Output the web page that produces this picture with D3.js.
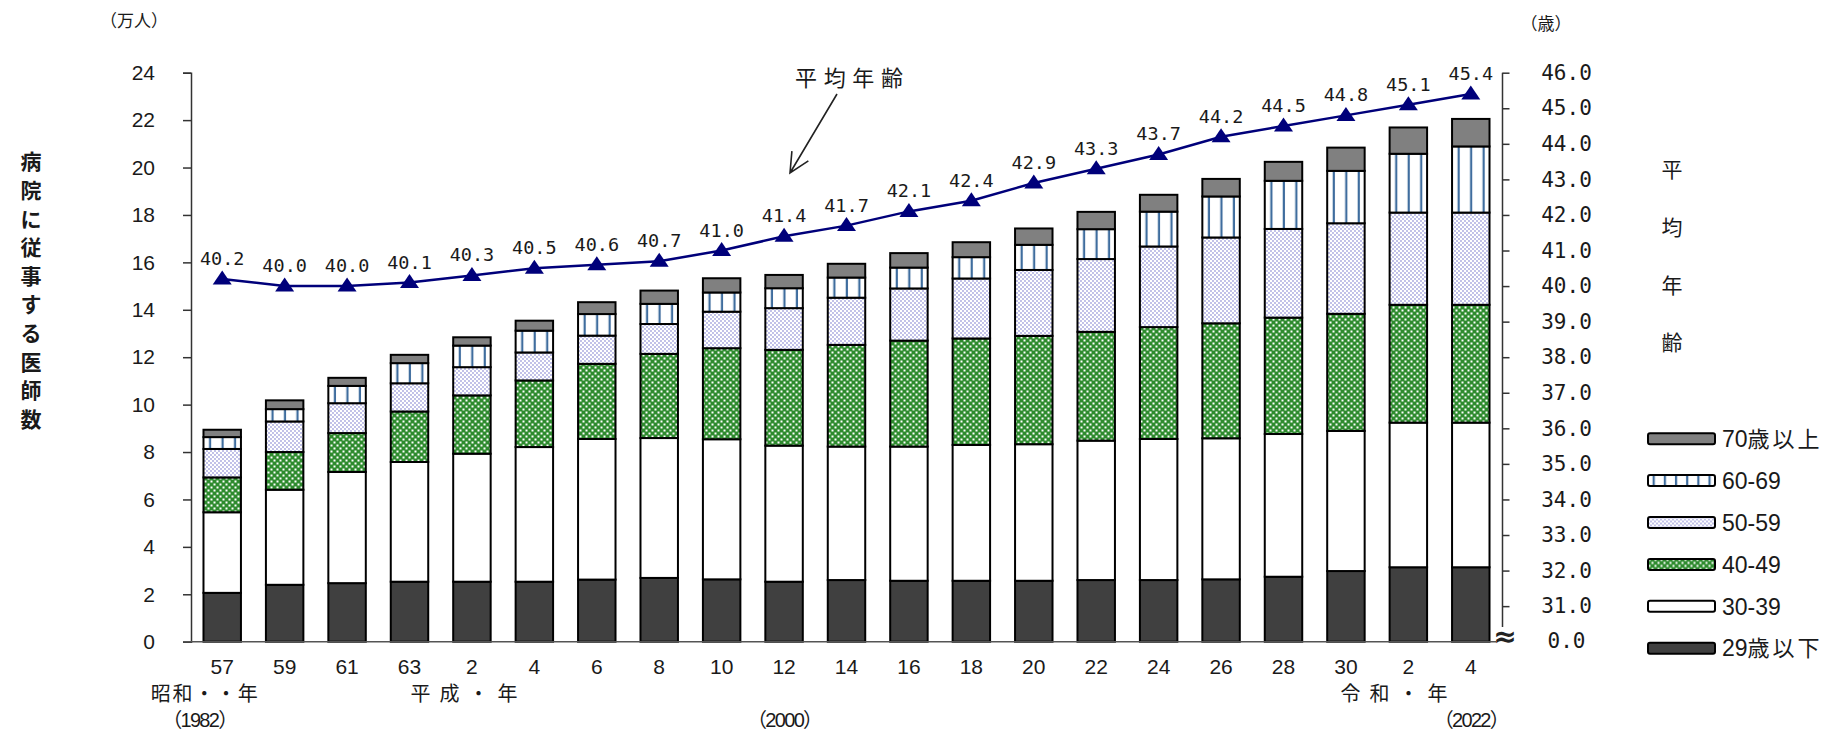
<!DOCTYPE html>
<html>
<head>
<meta charset="utf-8">
<script src="https://cdn.jsdelivr.net/npm/d3@7"></script>
<style>
  body { margin: 0; background: #ffffff; }
</style>
</head>
<body>
<div id="chart"></div>
<script>

/* DATA *********************************************************************************/

// 和暦の年 (昭和57 ... 令和4)
var years = ["57","59","61","63","2","4","6","8","10","12","14","16","18","20","22","24","26","28","30","2","4"];

// 病院に従事する医師数 (万人), by age group
var under29 = [2.06,2.40,2.47,2.53,2.53,2.53,2.62,2.69,2.63,2.53,2.60,2.57,2.57,2.57,2.60,2.60,2.63,2.74,2.98,3.14,3.14];
var age30s  = [3.40,4.01,4.69,5.05,5.40,5.68,5.93,5.90,5.91,5.74,5.63,5.66,5.73,5.76,5.88,5.95,5.95,6.02,5.91,6.10,6.10];
var age40s  = [1.47,1.59,1.64,2.13,2.46,2.81,3.17,3.55,3.84,4.04,4.29,4.47,4.49,4.57,4.59,4.72,4.85,4.91,4.94,4.97,4.97];
var age50s  = [1.20,1.29,1.26,1.19,1.19,1.18,1.19,1.26,1.54,1.76,1.99,2.20,2.53,2.78,3.07,3.40,3.62,3.74,3.82,3.89,3.89];
var age60s  = [0.50,0.52,0.73,0.85,0.91,0.92,0.91,0.85,0.81,0.84,0.85,0.88,0.90,1.06,1.26,1.47,1.73,2.03,2.21,2.48,2.79];
var over70  = [0.31,0.37,0.34,0.35,0.35,0.42,0.50,0.56,0.60,0.56,0.58,0.61,0.63,0.69,0.73,0.71,0.74,0.80,0.98,1.11,1.16];

// 平均年齢 (歳)
var meanAge = [40.2,40.0,40.0,40.1,40.3,40.5,40.6,40.7,41.0,41.4,41.7,42.1,42.4,42.9,43.3,43.7,44.2,44.5,44.8,45.1,45.4];

// Series names (bottom to top of the stack)
var seriesNames = ["29歳以下","30-39","40-49","50-59","60-69","70歳以上"];

// Tick values
var leftTicks  = [0,2,4,6,8,10,12,14,16,18,20,22,24];
var rightTicks = [31,32,33,34,35,36,37,38,39,40,41,42,43,44,45,46];

// Era labels under the axis
var eraLabels  = ["昭和・・年","平成・年","令和・年"];
var yearLabels = ["（1982）","（2000）","（2022）"];

/* SETTINGS *****************************************************************************/

var width = 1838;
var height = 731;
var numFont = "'Liberation Sans', Arial, sans-serif";
var monoFont = "'DejaVu Sans Mono', 'Liberation Mono', monospace";
var jpFont = "'Noto Sans CJK JP', 'Noto Sans', sans-serif";
var lineColor = "#00007a";
var textColor = "#1a1a1a";

/* SVG **********************************************************************************/

var svg = d3.select("#chart")
    .append("svg")
    .attr("width", width)
    .attr("height", height)
    .style("background-color", "#ffffff");

// Fill patterns
var defs = svg.append("defs");

var green = defs.append("pattern")
    .attr("id", "pGreen")
    .attr("patternUnits", "userSpaceOnUse")
    .attr("width", 6).attr("height", 6);
green.append("rect").attr("width", 6).attr("height", 6).attr("fill", "#2e8b2e");
green.append("rect").attr("x", 0.5).attr("y", 0.5).attr("width", 2).attr("height", 2).attr("fill", "#ffffff");
green.append("rect").attr("x", 3.5).attr("y", 3.5).attr("width", 2).attr("height", 2).attr("fill", "#ffffff");

var lav = defs.append("pattern")
    .attr("id", "pLav")
    .attr("patternUnits", "userSpaceOnUse")
    .attr("width", 4).attr("height", 4);
lav.append("rect").attr("width", 4).attr("height", 4).attr("fill", "#ffffff");
lav.append("circle").attr("cx", 1).attr("cy", 1).attr("r", 0.9).attr("fill", "#a4a4de");
lav.append("circle").attr("cx", 3).attr("cy", 3).attr("r", 0.9).attr("fill", "#a4a4de");

// vertical stripes: three per bar, six per legend box
[["pStripe", 1/3, 5.5], ["pStripeLegend", 1/6, 4.6]].forEach(function(p) {
    var pat = defs.append("pattern")
        .attr("id", p[0])
        .attr("patternUnits", "objectBoundingBox")
        .attr("width", p[1]).attr("height", 1);
    pat.append("rect").attr("width", 40).attr("height", 1000).attr("fill", "#ffffff");
    pat.append("rect").attr("x", p[2]).attr("y", 0)
        .attr("width", 2.2).attr("height", 1000).attr("fill", "#3f6d9e");
});

var fills = ["#404040", "#ffffff", "url(#pGreen)", "url(#pLav)", "url(#pStripe)", "#808080"];
var legendFills = ["#404040", "#ffffff", "url(#pGreen)", "url(#pLav)", "url(#pStripeLegend)", "#808080"];

// Scales
var x = d3.scaleBand()
    .domain(d3.range(years.length))
    .range([191, 1502])
    .paddingInner(0.4)
    .paddingOuter(0.2);
var yL = d3.scaleLinear().domain([0, 24]).range([641.7, 72.7]);
var yR = d3.scaleLinear().domain([30, 46]).range([641.7, 72.7]);

// Stack the series
var table = years.map(function(d, i) {
    return {
        "29歳以下": under29[i], "30-39": age30s[i], "40-49": age40s[i],
        "50-59": age50s[i], "60-69": age60s[i], "70歳以上": over70[i]
    };
});
var stacked = d3.stack().keys(seriesNames)(table);

// Bars
svg.append("g").selectAll("g")
    .data(stacked)
    .join("g")
    .attr("fill", function(d, i) { return fills[i]; })
    .selectAll("rect")
    .data(function(d) { return d; })
    .join("rect")
    .attr("x", function(d, i) { return x(i); })
    .attr("y", function(d) { return yL(d[1]); })
    .attr("width", x.bandwidth())
    .attr("height", function(d) { return yL(d[0]) - yL(d[1]); })
    .attr("stroke", "#000000")
    .attr("stroke-width", 2);

// Left axis
var leftAxis = svg.append("g")
    .attr("transform", "translate(191,0)")
    .call(d3.axisLeft(yL).tickValues(leftTicks).tickSize(8).tickPadding(28));
leftAxis.select(".domain").attr("stroke", "#333").attr("stroke-width", 1.5);
leftAxis.selectAll(".tick line").attr("stroke", "#333").attr("stroke-width", 1.5);
leftAxis.selectAll("text")
    .attr("font-family", numFont).attr("font-size", 21).attr("fill", textColor);

// Base line
svg.append("line")
    .attr("x1", 183).attr("x2", 1496)
    .attr("y1", yL(0)).attr("y2", yL(0))
    .attr("stroke", "#555").attr("stroke-width", 1.5);

// Right axis (broken at the bottom)
var rightAxis = svg.append("g")
    .attr("transform", "translate(1502.5,0)")
    .call(d3.axisRight(yR).tickValues(rightTicks).tickSize(7).tickSizeOuter(0)
        .tickFormat(function(d) { return d.toFixed(1); }));
rightAxis.select(".domain").remove();
rightAxis.selectAll(".tick line").attr("stroke", "#333").attr("stroke-width", 1.5);
rightAxis.selectAll("text")
    .attr("x", 64).attr("text-anchor", "middle")
    .attr("font-family", monoFont).attr("font-size", 21).attr("fill", textColor);
svg.append("line")
    .attr("x1", 1502.5).attr("x2", 1502.5)
    .attr("y1", yR(46)).attr("y2", 627)
    .attr("stroke", "#333").attr("stroke-width", 1.5);
svg.append("text")
    .attr("x", 1566.5).attr("y", yR(30))
    .attr("dy", "0.32em")
    .attr("text-anchor", "middle")
    .attr("font-family", monoFont).attr("font-size", 21).attr("fill", textColor)
    .text((0).toFixed(1));
svg.append("text")
    .attr("x", 1505).attr("y", 636)
    .attr("dy", "0.35em")
    .attr("text-anchor", "middle")
    .attr("font-family", "'DejaVu Sans', sans-serif").attr("font-size", 28)
    .attr("font-weight", "bold").attr("fill", "#222")
    .text("≈");

// Category labels
svg.append("g").selectAll("text")
    .data(years)
    .join("text")
    .attr("x", function(d, i) { return x(i) + x.bandwidth() / 2; })
    .attr("y", 674)
    .attr("text-anchor", "middle")
    .attr("font-family", numFont).attr("font-size", 21).attr("fill", textColor)
    .text(function(d) { return d; });

// Era and western year labels
var eraPos = [[0, -18], [4, -8], [18, 48]];
var yearPos = [[0, -22], [9, 1], [20, 1]];
svg.append("g").selectAll("text")
    .data(eraLabels)
    .join("text")
    .attr("x", function(d, i) { return x(eraPos[i][0]) + x.bandwidth() / 2 + eraPos[i][1]; })
    .attr("y", 701)
    .attr("text-anchor", "middle")
    .attr("font-family", jpFont).attr("font-size", 20).attr("fill", textColor)
    .attr("textLength", 107).attr("lengthAdjust", "spacing")
    .text(function(d) { return d; });
svg.append("g").selectAll("text")
    .data(yearLabels)
    .join("text")
    .attr("x", function(d, i) { return x(yearPos[i][0]) + x.bandwidth() / 2 + yearPos[i][1]; })
    .attr("y", 727)
    .attr("text-anchor", "middle")
    .attr("font-family", numFont + ", " + jpFont).attr("font-size", 20).attr("fill", textColor)
    .attr("textLength", 76).attr("lengthAdjust", "spacing")
    .text(function(d) { return d; });

// Mean age line
var line = d3.line()
    .x(function(d, i) { return x(i) + x.bandwidth() / 2; })
    .y(function(d) { return yR(d); });
svg.append("path")
    .datum(meanAge)
    .attr("d", line)
    .attr("fill", "none")
    .attr("stroke", lineColor)
    .attr("stroke-width", 2.5);

// Triangle markers
svg.append("g").selectAll("path")
    .data(meanAge)
    .join("path")
    .attr("d", "M0,-8.5L9.5,5.5L-9.5,5.5Z")
    .attr("transform", function(d, i) {
        return "translate(" + (x(i) + x.bandwidth() / 2) + "," + yR(d) + ")";
    })
    .attr("fill", lineColor);

// Value labels
svg.append("g").selectAll("text")
    .data(meanAge)
    .join("text")
    .attr("x", function(d, i) { return x(i) + x.bandwidth() / 2; })
    .attr("y", function(d) { return yR(d) - 14; })
    .attr("text-anchor", "middle")
    .attr("font-family", monoFont).attr("font-size", 18.5).attr("fill", textColor)
    .text(function(d) { return d.toFixed(1); });

// Annotation with arrow
svg.append("text")
    .attr("x", 849).attr("y", 86)
    .attr("text-anchor", "middle")
    .attr("font-family", jpFont).attr("font-size", 22).attr("fill", textColor)
    .attr("textLength", 108).attr("lengthAdjust", "spacing")
    .text("平均年齢");
var a0 = [837, 94], a1 = [790, 173];
var ang = Math.atan2(a1[1] - a0[1], a1[0] - a0[0]);
var headLen = 22, headAng = 0.45;
svg.append("path")
    .attr("d", "M" + a0 + "L" + a1 +
        "M" + [a1[0] - headLen * Math.cos(ang - headAng), a1[1] - headLen * Math.sin(ang - headAng)] +
        "L" + a1 +
        "L" + [a1[0] - headLen * Math.cos(ang + headAng), a1[1] - headLen * Math.sin(ang + headAng)])
    .attr("fill", "none")
    .attr("stroke", "#222")
    .attr("stroke-width", 1.6);

// Axis units
svg.append("text")
    .attr("x", 134).attr("y", 27)
    .attr("text-anchor", "middle")
    .attr("font-family", jpFont).attr("font-size", 17).attr("fill", textColor)
    .text("（万人）");
svg.append("text")
    .attr("x", 1546).attr("y", 30)
    .attr("text-anchor", "middle")
    .attr("font-family", jpFont).attr("font-size", 17).attr("fill", textColor)
    .text("（歳）");

// Vertical axis titles
svg.append("g").selectAll("text")
    .data("病院に従事する医師数".split(""))
    .join("text")
    .attr("x", 31)
    .attr("y", function(d, i) { return 162 + i * 28.6; })
    .attr("dy", "0.35em")
    .attr("text-anchor", "middle")
    .attr("font-family", jpFont).attr("font-size", 21).attr("font-weight", "bold")
    .attr("fill", textColor)
    .text(function(d) { return d; });
svg.append("g").selectAll("text")
    .data("平均年齢".split(""))
    .join("text")
    .attr("x", 1672)
    .attr("y", function(d, i) { return 170 + i * 57.7; })
    .attr("dy", "0.35em")
    .attr("text-anchor", "middle")
    .attr("font-family", jpFont).attr("font-size", 21)
    .attr("fill", textColor)
    .text(function(d) { return d; });

// Legend (top to bottom: oldest first)
var legend = svg.append("g").selectAll("g")
    .data(seriesNames.slice().reverse())
    .join("g")
    .attr("transform", function(d, i) { return "translate(1648," + (438.7 + i * 41.9) + ")"; });
legend.append("rect")
    .attr("x", 0).attr("y", -5.5)
    .attr("width", 67).attr("height", 11)
    .attr("rx", 2)
    .attr("fill", function(d) { return legendFills[seriesNames.indexOf(d)]; })
    .attr("stroke", "#000").attr("stroke-width", 2);
var legendText = legend.append("text")
    .attr("x", 74).attr("y", 0)
    .attr("dy", "0.36em")
    .attr("font-family", numFont + ", " + jpFont).attr("font-size", 23)
    .attr("fill", textColor);
// digits and Japanese part are set separately so the kanji can be spaced out
legendText.append("tspan")
    .text(function(d) { return d.match(/^[0-9\-]+/)[0]; });
legendText.append("tspan")
    .attr("font-family", jpFont)
    .attr("font-size", 22)
    .attr("letter-spacing", 3)
    .text(function(d) { return d.replace(/^[0-9\-]+/, ""); });

</script>
</body>
</html>
